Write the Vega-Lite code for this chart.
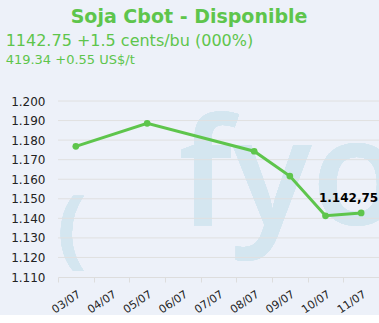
{
  "$schema": "https://vega.github.io/schema/vega-lite/v6.json",
  "background": "#edf1f9",
  "padding": {"left": 5, "top": 8, "right": 0, "bottom": 0},
  "config": {
    "locale": {"number": {"decimal": ",", "thousands": ".", "grouping": [3], "currency": ["", ""]}},
    "view": {"stroke": null},
    "font": "DejaVu Sans",
    "concat": {"spacing": 0}
  },
  "title": {
    "text": "Soja Cbot - Disponible",
    "anchor": "start",
    "frame": "bounds",
    "dx": 65,
    "font": "DejaVu Sans",
    "fontSize": 19,
    "fontWeight": "bold",
    "color": "#5ec54c",
    "offset": 6
  },
  "vconcat": [
    {
      "width": 321,
      "height": 176,
      "title": {
        "text": "1142.75 +1.5 cents/bu (000%)",
        "subtitle": "419.34 +0.55 US$/t",
        "anchor": "start",
        "frame": "bounds",
        "dx": -5,
        "font": "DejaVu Sans",
        "fontSize": 16,
        "fontWeight": "normal",
        "color": "#5ec54c",
        "subtitleFont": "DejaVu Sans",
        "subtitleFontSize": 13,
        "subtitleColor": "#5ec54c",
        "subtitlePadding": 5,
        "offset": 28
      },
      "data": {
        "values": [
          {"date": "03/07", "price": 1176.8},
          {"date": "05/07", "price": 1188.6},
          {"date": "08/07", "price": 1174.3},
          {"date": "09/07", "price": 1161.6},
          {"date": "10/07", "price": 1141.3},
          {"date": "11/07", "price": 1142.75}
        ]
      },
      "encoding": {
        "x": {
          "field": "date",
          "type": "ordinal",
          "scale": {"domain": ["03/07", "04/07", "05/07", "06/07", "07/07", "08/07", "09/07", "10/07", "11/07"], "paddingInner": 0, "paddingOuter": 0},
          "axis": {
            "title": null,
            "labelAngle": -34,
            "labelAlign": "right",
            "labelBaseline": "top",
            "labelFontSize": 11,
            "labelColor": "#222222",
            "labelPadding": 6,
            "tickBand": "extent",
            "tickSize": 5,
            "tickColor": "#dddddd",
            "domainColor": "#dddddd",
            "grid": false
          }
        },
        "y": {
          "field": "price",
          "type": "quantitative",
          "scale": {"domain": [1110, 1200], "nice": false, "zero": false},
          "axis": {
            "title": null,
            "values": [1110, 1120, 1130, 1140, 1150, 1160, 1170, 1180, 1190, 1200],
            "format": ",.0f",
            "labelFontSize": 12,
            "labelColor": "#222222",
            "labelPadding": 13,
            "ticks": false,
            "domain": false,
            "grid": false
          }
        }
      },
      "layer": [
        {
          "mark": {"type": "text", "text": "fyo", "font": "Open Sans", "fontSize": 148, "fontWeight": 600, "align": "left", "baseline": "alphabetic", "dx": -4, "clip": true, "color": "#d4e6f0"},
          "encoding": {"x": {"datum": "06/07"}, "y": {"datum": 1136.7}}
        },
        {
          "mark": {"type": "text", "text": "(", "font": "Open Sans", "fontSize": 86, "fontWeight": "bold", "align": "center", "baseline": "alphabetic", "dx": -4, "color": "#d4e6f0"},
          "encoding": {"x": {"datum": "03/07"}, "y": {"datum": 1120}}
        },
        {
          "data": {"values": [{"g": 1120}, {"g": 1130}, {"g": 1140}, {"g": 1150}, {"g": 1160}, {"g": 1170}, {"g": 1180}, {"g": 1190}, {"g": 1200}]},
          "mark": {"type": "rule", "color": "#e0e0e0", "strokeWidth": 1},
          "encoding": {"x": null, "y": {"field": "g", "type": "quantitative"}}
        },
        {
          "mark": {"type": "line", "color": "#5ec54c", "strokeWidth": 3}
        },
        {
          "mark": {"type": "point", "filled": true, "color": "#5ec54c", "size": 45, "opacity": 1}
        },
        {
          "transform": [{"filter": "datum.date == '11/07'"}],
          "mark": {"type": "text", "font": "DejaVu Sans", "fontSize": 12, "fontWeight": "bold", "align": "right", "baseline": "alphabetic", "dx": 17, "dy": -11, "color": "#000000"},
          "encoding": {"text": {"field": "price", "type": "quantitative", "format": ",.2f"}}
        }
      ]
    }
  ]
}
